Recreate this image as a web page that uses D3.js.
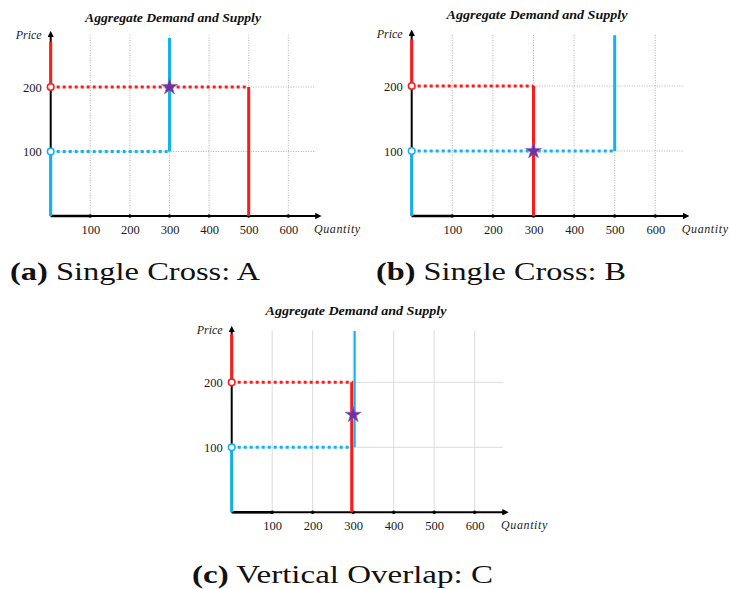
<!DOCTYPE html>
<html>
<head>
<meta charset="utf-8">
<script src="https://cdn.jsdelivr.net/npm/d3@7"></script>
<style>
  body { margin:0; background:#fff; }
  svg { display:block; }
</style>
</head>
<body>
<svg width="729" height="589"></svg>
<script>
// chart values
const xTicks = [100, 200, 300, 400, 500, 600];
const yTicks = [100, 200];
const captionTags = ["(a)", "(b)", "(c)"];
const captions = ["Single Cross: A", "Single Cross: B", "Vertical Overlap: C"];
const supplyPrice = [100, 100, 100];
const demandPrice = [200, 200, 200];
const supplyQty = [300, 500, 300];
const demandQty = [500, 300, 300];
const supplyTop = [276, 278, 279];
const demandTop = [270, 272, 274];
const eqQty = [300, 300, 300];
const eqPrice = [200, 100, 150];

// layout of each panel (origin + px per unit)
const layout = [
  {ox: 50.7,  oy: 216,   kx: 0.396, ky: 0.645, tx: 173, ty: 22,  grid: "dot", cx: 10,  cy: 280, cw: 250},
  {ox: 411.7, oy: 216,   kx: 0.406, ky: 0.65,  tx: 537, ty: 19,  grid: "dot", cx: 376, cy: 280, cw: 250},
  {ox: 231.7, oy: 512.3, kx: 0.405, ky: 0.65,  tx: 356, ty: 315, grid: "solid", cx: 192, cy: 583, cw: 301}
];

const red = "#ff1a1a", blue = "#12b2ec", purple = "#7030a0";
const serif = "'Liberation Serif', 'Times New Roman', serif";
const svg = d3.select("svg");

svg.append("defs").append("marker")
  .attr("id", "arr").attr("viewBox", "0 0 10 10")
  .attr("refX", 5).attr("refY", 5)
  .attr("markerWidth", 3.2).attr("markerHeight", 3.2)
  .attr("orient", "auto")
  .append("path").attr("d", "M0,0 L10,5 L0,10 Z").attr("fill", "#000");

function panel(i){
  const L = layout[i];
  const x = d3.scaleLinear().domain([0, 680]).range([L.ox, L.ox + 680*L.kx]);
  const y = d3.scaleLinear().domain([0, 280]).range([L.oy, L.oy - 280*L.ky]);
  const g = svg.append("g");
  const line = d3.line().x(d=>x(d[0])).y(d=>y(d[1]));
  const overlap = supplyQty[i]==demandQty[i];

  // grid
  const gridDash = L.grid=="dot" ? "1,1.5" : null;
  const gridCol = L.grid=="dot" ? "#b0b0b0" : "#dcdcdc";
  g.selectAll("line.vg").data(xTicks).join("line")
    .attr("x1", d=>x(d)).attr("x2", d=>x(d))
    .attr("y1", y(0)).attr("y2", y(280))
    .attr("stroke", gridCol).attr("stroke-width", 1)
    .attr("stroke-dasharray", gridDash);
  g.selectAll("line.hg").data(yTicks).join("line")
    .attr("x1", x(0)).attr("x2", x(670))
    .attr("y1", d=>y(d)).attr("y2", d=>y(d))
    .attr("stroke", gridCol).attr("stroke-width", 1)
    .attr("stroke-dasharray", gridDash);

  // axes
  g.append("line").attr("x1", x(0)).attr("y1", y(0)).attr("x2", x(676)).attr("y2", y(0))
    .attr("stroke", "#000").attr("stroke-width", 2).attr("marker-end", "url(#arr)");
  g.append("line").attr("x1", x(0)).attr("y1", y(0)).attr("x2", x(0)).attr("y2", y(282))
    .attr("stroke", "#000").attr("stroke-width", 2).attr("marker-end", "url(#arr)");
  g.append("line").attr("x1", x(0)).attr("y1", y(0)).attr("x2", x(100)).attr("y2", y(0))
    .attr("stroke", "#000").attr("stroke-width", 2.6);
  g.selectAll("circle.tk").data(xTicks).join("circle")
    .attr("cx", d=>x(d)).attr("cy", y(0)).attr("r", 1.8).attr("fill", "#000");

  const xa = g.append("g").attr("transform", `translate(0,${L.oy})`)
    .call(d3.axisBottom(x).tickValues(xTicks).tickSize(0).tickPadding(9));
  const ya = g.append("g").attr("transform", `translate(${L.ox},0)`)
    .call(d3.axisLeft(y).tickValues(yTicks).tickSize(0).tickPadding(9));
  [xa, ya].forEach(a=>{
    a.select(".domain").remove();
    a.selectAll("text").attr("font-family", serif).attr("font-size", 12.5).attr("fill", "#1a1a1a");
  });

  // supply (blue)
  g.append("path").attr("d", line([[0,0],[0,supplyPrice[i]]]))
    .attr("stroke", blue).attr("stroke-width", 3).attr("fill", "none");
  g.append("path").attr("d", line([[0,supplyPrice[i]],[supplyQty[i],supplyPrice[i]]]))
    .attr("stroke", blue).attr("stroke-width", 3).attr("stroke-dasharray", "3,3").attr("fill", "none");
  // demand (red)
  g.append("path").attr("d", line([[0,demandTop[i]],[0,demandPrice[i]]]))
    .attr("stroke", red).attr("stroke-width", 3).attr("fill", "none");
  g.append("path").attr("d", line([[0,demandPrice[i]],[demandQty[i],demandPrice[i]]]))
    .attr("stroke", red).attr("stroke-width", 3).attr("stroke-dasharray", "3,3").attr("fill", "none");
  g.append("path").attr("d", line([[demandQty[i],demandPrice[i]],[demandQty[i],0]]))
    .attr("stroke", red).attr("stroke-width", 3).attr("fill", "none")
    .attr("transform", overlap ? "translate(-1.5,0)" : null);
  g.append("path").attr("d", line([[supplyQty[i],supplyPrice[i]],[supplyQty[i],supplyTop[i]]]))
    .attr("stroke", blue).attr("stroke-width", overlap ? 2 : 3).attr("fill", "none")
    .attr("transform", overlap ? "translate(1.5,0)" : null);

  // open circles
  g.append("circle").attr("cx", x(0)).attr("cy", y(supplyPrice[i])).attr("r", 3.3)
    .attr("fill", "#fff").attr("stroke", blue).attr("stroke-width", 1.6);
  g.append("circle").attr("cx", x(0)).attr("cy", y(demandPrice[i])).attr("r", 3.3)
    .attr("fill", "#fff").attr("stroke", red).attr("stroke-width", 1.6);

  // equilibrium star
  g.append("path").attr("d", d3.symbol(d3.symbolStar, 80)())
    .attr("transform", `translate(${x(eqQty[i])},${y(eqPrice[i])})`)
    .attr("fill", purple).attr("stroke", "#8a5cc0").attr("stroke-width", 0.6);

  // labels
  g.append("text").attr("x", x(0)-9).attr("y", y(282)+5).attr("text-anchor", "end")
    .attr("font-family", serif).attr("font-style", "italic").attr("font-size", 12)
    .attr("fill", "#222").text("Price");
  g.append("text").attr("x", x(680)-6).attr("y", L.oy+17)
    .attr("font-family", serif).attr("font-style", "italic").attr("font-size", 12)
    .attr("fill", "#222").attr("letter-spacing", 0.6).text("Quantity");
  g.append("text").attr("x", L.tx).attr("y", L.ty).attr("text-anchor", "middle")
    .attr("font-family", serif).attr("font-style", "italic").attr("font-weight", "bold")
    .attr("font-size", 12.5).attr("fill", "#111")
    .attr("textLength", i==0 ? 176 : 181).attr("lengthAdjust", "spacingAndGlyphs")
    .text("Aggregate Demand and Supply");

  // caption
  const cap = svg.append("text").attr("x", L.cx).attr("y", L.cy)
    .attr("font-family", serif).attr("font-size", 26).attr("fill", "#111")
    .attr("textLength", L.cw).attr("lengthAdjust", "spacingAndGlyphs");
  cap.append("tspan").attr("font-weight", "bold").text(captionTags[i]);
  cap.append("tspan").text(" " + captions[i]);
}

[0, 1, 2].forEach(panel);
</script>
</body>
</html>
